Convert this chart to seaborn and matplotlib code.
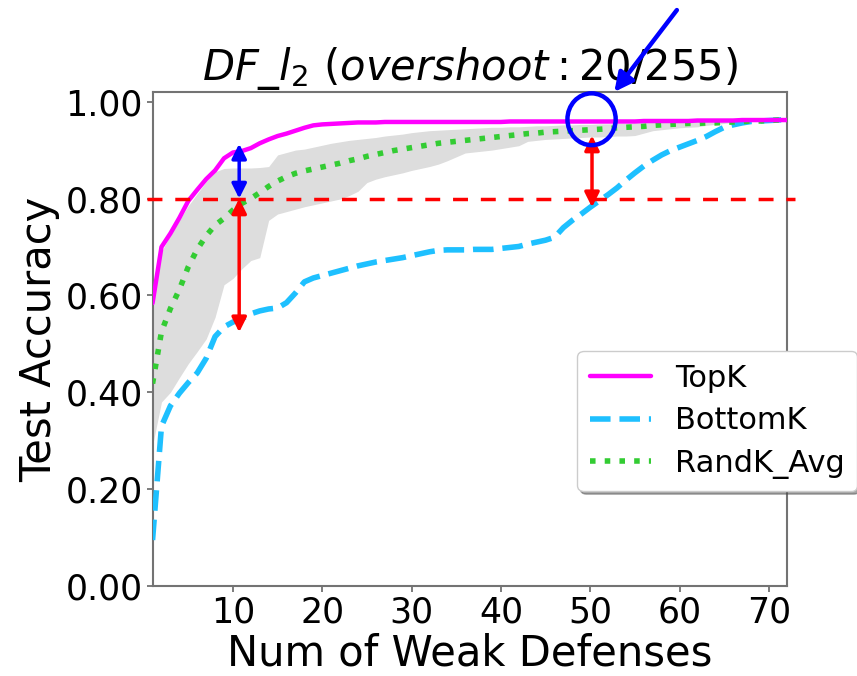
import numpy as np
import pandas as pd
import matplotlib
matplotlib.use("Agg")
import matplotlib.pyplot as plt
import seaborn as sns
from matplotlib.patches import Ellipse

# ---------------- data ----------------
num_wd = list(range(1, 73))

topk = [0.584, 0.700, 0.728, 0.760, 0.795, 0.818, 0.840, 0.858, 0.883, 0.895,
        0.898, 0.904, 0.914, 0.922, 0.929, 0.934, 0.940, 0.946, 0.951, 0.953,
        0.954, 0.955, 0.956, 0.957, 0.957, 0.957, 0.958, 0.958, 0.958, 0.958,
        0.958, 0.958, 0.958, 0.958, 0.958, 0.958, 0.958, 0.958, 0.958, 0.958,
        0.959, 0.959, 0.959, 0.959, 0.959, 0.959, 0.959, 0.959, 0.959, 0.959,
        0.959, 0.959, 0.959, 0.959, 0.959, 0.960, 0.960, 0.960, 0.960, 0.960,
        0.960, 0.961, 0.961, 0.961, 0.961, 0.961, 0.962, 0.962, 0.962, 0.962,
        0.962, 0.962]

bottomk = [0.095, 0.330, 0.372, 0.398, 0.420, 0.440, 0.470, 0.515, 0.535, 0.545,
           0.552, 0.562, 0.568, 0.572, 0.574, 0.585, 0.605, 0.628, 0.636, 0.641,
           0.646, 0.651, 0.656, 0.661, 0.665, 0.669, 0.672, 0.675, 0.678, 0.682,
           0.686, 0.690, 0.693, 0.694, 0.694, 0.694, 0.695, 0.695, 0.695, 0.697,
           0.699, 0.701, 0.706, 0.710, 0.714, 0.720, 0.740, 0.755, 0.768, 0.782,
           0.795, 0.808, 0.822, 0.838, 0.853, 0.867, 0.879, 0.890, 0.899, 0.906,
           0.913, 0.920, 0.928, 0.938, 0.947, 0.952, 0.956, 0.959, 0.960, 0.961,
           0.962, 0.963]

randk_avg = [0.418, 0.525, 0.573, 0.612, 0.659, 0.695, 0.723, 0.745, 0.759, 0.776,
             0.790, 0.800, 0.812, 0.825, 0.836, 0.845, 0.852, 0.857, 0.861, 0.865,
             0.869, 0.873, 0.878, 0.882, 0.887, 0.891, 0.895, 0.899, 0.902, 0.905,
             0.908, 0.911, 0.914, 0.916, 0.918, 0.920, 0.922, 0.924, 0.926, 0.928,
             0.930, 0.932, 0.934, 0.935, 0.937, 0.938, 0.939, 0.940, 0.941, 0.942,
             0.943, 0.944, 0.946, 0.947, 0.948, 0.949, 0.951, 0.952, 0.953, 0.954,
             0.955, 0.955, 0.956, 0.956, 0.957, 0.958, 0.959, 0.960, 0.960, 0.961,
             0.962, 0.962]

randk_max = [0.584, 0.690, 0.725, 0.755, 0.785, 0.810, 0.835, 0.855, 0.862, 0.863,
             0.863, 0.863, 0.864, 0.866, 0.890, 0.895, 0.900, 0.902, 0.906, 0.910,
             0.914, 0.917, 0.920, 0.922, 0.924, 0.926, 0.929, 0.931, 0.933, 0.936,
             0.938, 0.940, 0.941, 0.942, 0.943, 0.944, 0.945, 0.946, 0.947, 0.947,
             0.948, 0.948, 0.949, 0.950, 0.950, 0.951, 0.952, 0.952, 0.953, 0.953,
             0.954, 0.954, 0.955, 0.955, 0.956, 0.957, 0.958, 0.958, 0.959, 0.960,
             0.960, 0.960, 0.961, 0.961, 0.961, 0.961, 0.962, 0.962, 0.962, 0.962,
             0.962, 0.962]

randk_min = [0.290, 0.380, 0.400, 0.430, 0.459, 0.484, 0.510, 0.555, 0.622, 0.635,
             0.655, 0.672, 0.678, 0.755, 0.768, 0.773, 0.778, 0.783, 0.787, 0.791,
             0.795, 0.799, 0.806, 0.815, 0.833, 0.840, 0.845, 0.849, 0.853, 0.858,
             0.862, 0.866, 0.871, 0.878, 0.886, 0.894, 0.896, 0.898, 0.900, 0.903,
             0.906, 0.909, 0.918, 0.920, 0.922, 0.923, 0.924, 0.925, 0.926, 0.927,
             0.927, 0.928, 0.929, 0.929, 0.930, 0.935, 0.940, 0.942, 0.944, 0.946,
             0.947, 0.948, 0.951, 0.953, 0.955, 0.957, 0.958, 0.959, 0.960, 0.961,
             0.961, 0.962]

series_labels = ["TopK", "BottomK", "RandK_Avg"]
x_ticks = [10, 20, 30, 40, 50, 60, 70]
y_ticks = [0.0, 0.2, 0.4, 0.6, 0.8, 1.0]

threshold = 0.80
blue_arrow_x, blue_arrow_top = 10.7, 0.913
red_arrow1_x, red_arrow1_bottom = 10.7, 0.524
red_arrow2_x, red_arrow2_top, red_arrow2_bottom = 50.2, 0.930, 0.782

# ---------------- style ----------------
sns.set_theme(style="ticks")
plt.rcParams["font.family"] = ["DejaVu Sans"]
plt.rcParams["mathtext.fontset"] = "dejavusans"
plt.rcParams["text.color"] = "black"
plt.rcParams["axes.labelcolor"] = "black"
plt.rcParams["xtick.color"] = "0.4"
plt.rcParams["ytick.color"] = "0.4"
plt.rcParams["xtick.labelcolor"] = "black"
plt.rcParams["ytick.labelcolor"] = "black"

fig = plt.figure(figsize=(8.57, 6.76), dpi=100)
ax = fig.add_axes([0.178, 0.133, 0.918 - 0.178, 0.864 - 0.133])

df = pd.DataFrame({"x": num_wd, "TopK": topk, "BottomK": bottomk,
                   "RandK_Avg": randk_avg, "min": randk_min, "max": randk_max})

ax.fill_between(df["x"], df["min"], df["max"], color="#dddddd", lw=0, zorder=1)

sns.lineplot(data=df, x="x", y="TopK", ax=ax, color="#ff00ff", lw=3.2,
             label=series_labels[0], zorder=4)
sns.lineplot(data=df, x="x", y="BottomK", ax=ax, color="#1ec0ff", lw=4,
             linestyle="--", label=series_labels[1], zorder=3)
sns.lineplot(data=df, x="x", y="RandK_Avg", ax=ax, color="#33cc33", lw=4,
             linestyle=":", label=series_labels[2], zorder=3)

ax.set_xlim(1, 72)
ax.set_ylim(0, 1.02)
ax.set_xticks(x_ticks)
ax.set_yticks(y_ticks)
ax.set_yticklabels([f"{v:.2f}" for v in y_ticks])
ax.tick_params(axis="both", labelsize=25, length=4, width=1.2, pad=3)

for sp in ax.spines.values():
    sp.set_color("0.45")
    sp.set_linewidth(1.5)

ax.set_xlabel("Num of Weak Defenses", fontsize=30, labelpad=2)
ax.set_ylabel("Test Accuracy", fontsize=30, labelpad=4)
ax.set_title(r"$DF\_l_2\ (overshoot: 20/255)$", fontsize=30, pad=8)

leg = ax.legend(loc="upper left", bbox_to_anchor=(0.67, 0.475), fontsize=22,
                frameon=True, shadow=True, fancybox=True, handlelength=2.0,
                handletextpad=0.8, borderaxespad=0, labelspacing=0.45)
leg.get_frame().set_edgecolor("#cccccc")
leg.get_frame().set_facecolor("white")

# ---------------- annotations ----------------
ax.plot([0.36, 72.9], [threshold, threshold], color="red", lw=2.5,
        linestyle=(0, (4.3, 3.7)), clip_on=False, zorder=5)

arrow_kw = dict(arrowstyle="<|-|>", mutation_scale=22, lw=2.5,
                shrinkA=0, shrinkB=0)
ax.annotate("", xy=(blue_arrow_x, blue_arrow_top), xytext=(blue_arrow_x, threshold),
            arrowprops=dict(color="blue", **arrow_kw), zorder=6)
ax.annotate("", xy=(red_arrow1_x, red_arrow1_bottom), xytext=(red_arrow1_x, threshold),
            arrowprops=dict(color="red", **arrow_kw), zorder=6)
ax.annotate("", xy=(red_arrow2_x, red_arrow2_bottom), xytext=(red_arrow2_x, red_arrow2_top),
            arrowprops=dict(color="red", **arrow_kw), zorder=6)

ax.add_patch(Ellipse((50.15, 0.9636), 5.4, 0.107, fill=False, ec="blue",
                     lw=3.2, clip_on=False, zorder=7))
ax.annotate("", xy=(52.7, 1.02), xytext=(59.7, 1.189),
            arrowprops=dict(arrowstyle="-|>", color="blue", lw=3.2,
                            mutation_scale=28, shrinkA=0, shrinkB=0),
            annotation_clip=False, zorder=7)

fig.savefig("out.png", dpi=100)
